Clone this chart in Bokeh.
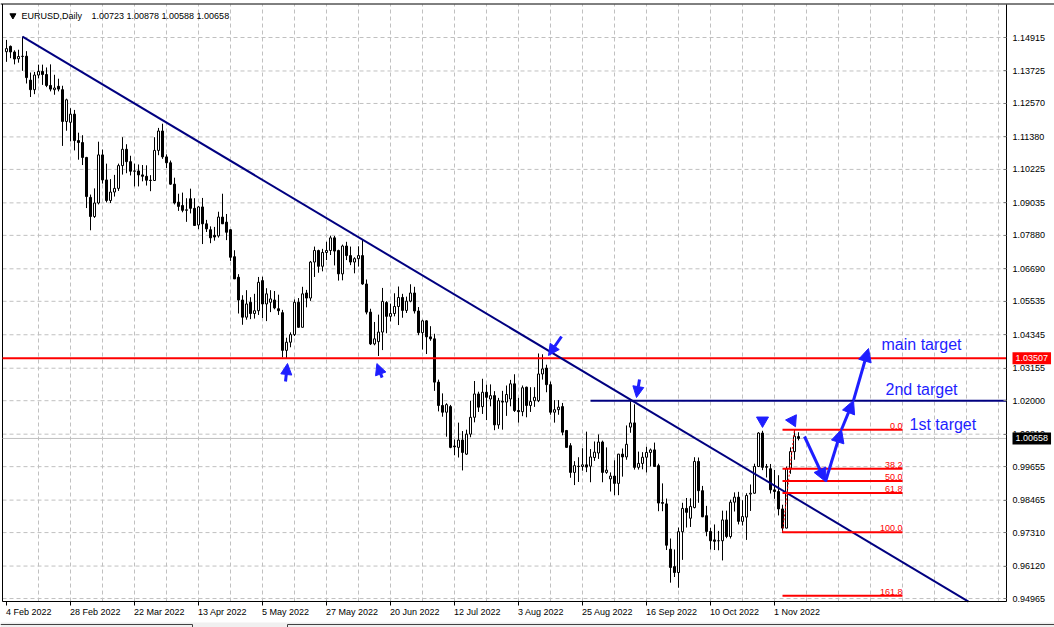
from bokeh.plotting import figure
from bokeh.models import (Range1d, FixedTicker, Label, Arrow, NormalHead, LinearAxis,
                          PrintfTickFormatter, ColumnDataSource)
from bokeh.core.properties import value
from bokeh.embed import file_html
from bokeh.resources import INLINE

# ---------------- data (EURUSD daily) ----------------
dates = ["2022-02-04","2022-02-07","2022-02-08","2022-02-09","2022-02-10","2022-02-11","2022-02-14","2022-02-15","2022-02-16","2022-02-17",
         "2022-02-18","2022-02-21","2022-02-22","2022-02-23","2022-02-24","2022-02-25","2022-02-28","2022-03-01","2022-03-02","2022-03-03",
         "2022-03-04","2022-03-07","2022-03-08","2022-03-09","2022-03-10","2022-03-11","2022-03-14","2022-03-15","2022-03-16","2022-03-17",
         "2022-03-18","2022-03-21","2022-03-22","2022-03-23","2022-03-24","2022-03-25","2022-03-28","2022-03-29","2022-03-30","2022-03-31",
         "2022-04-01","2022-04-04","2022-04-05","2022-04-06","2022-04-07","2022-04-08","2022-04-11","2022-04-12","2022-04-13","2022-04-14",
         "2022-04-15","2022-04-18","2022-04-19","2022-04-20","2022-04-21","2022-04-22","2022-04-25","2022-04-26","2022-04-27","2022-04-28",
         "2022-04-29","2022-05-02","2022-05-03","2022-05-04","2022-05-05","2022-05-06","2022-05-09","2022-05-10","2022-05-11","2022-05-12",
         "2022-05-13","2022-05-16","2022-05-17","2022-05-18","2022-05-19","2022-05-20","2022-05-23","2022-05-24","2022-05-25","2022-05-26",
         "2022-05-27","2022-05-30","2022-05-31","2022-06-01","2022-06-02","2022-06-03","2022-06-06","2022-06-07","2022-06-08","2022-06-09",
         "2022-06-10","2022-06-13","2022-06-14","2022-06-15","2022-06-16","2022-06-17","2022-06-20","2022-06-21","2022-06-22","2022-06-23",
         "2022-06-24","2022-06-27","2022-06-28","2022-06-29","2022-06-30","2022-07-01","2022-07-04","2022-07-05","2022-07-06","2022-07-07",
         "2022-07-08","2022-07-11","2022-07-12","2022-07-13","2022-07-14","2022-07-15","2022-07-18","2022-07-19","2022-07-20","2022-07-21",
         "2022-07-22","2022-07-25","2022-07-26","2022-07-27","2022-07-28","2022-07-29","2022-08-01","2022-08-02","2022-08-03","2022-08-04",
         "2022-08-05","2022-08-08","2022-08-09","2022-08-10","2022-08-11","2022-08-12","2022-08-15","2022-08-16","2022-08-17","2022-08-18",
         "2022-08-19","2022-08-22","2022-08-23","2022-08-24","2022-08-25","2022-08-26","2022-08-29","2022-08-30","2022-08-31","2022-09-01",
         "2022-09-02","2022-09-05","2022-09-06","2022-09-07","2022-09-08","2022-09-09","2022-09-12","2022-09-13","2022-09-14","2022-09-15",
         "2022-09-16","2022-09-19","2022-09-20","2022-09-21","2022-09-22","2022-09-23","2022-09-26","2022-09-27","2022-09-28","2022-09-29",
         "2022-09-30","2022-10-03","2022-10-04","2022-10-05","2022-10-06","2022-10-07","2022-10-10","2022-10-11","2022-10-12","2022-10-13",
         "2022-10-14","2022-10-17","2022-10-18","2022-10-19","2022-10-20","2022-10-21","2022-10-24","2022-10-25","2022-10-26","2022-10-27",
         "2022-10-28","2022-10-31","2022-11-01","2022-11-02","2022-11-03","2022-11-04","2022-11-07","2022-11-08","2022-11-09"]

opens = [1.1441,1.1460,1.1440,1.1416,1.1424,1.1425,1.1340,1.1306,1.1358,1.1371,
         1.1360,1.1321,1.1306,1.1318,1.1306,1.1193,1.1190,1.1219,1.1125,1.1118,
         1.1065,1.0923,1.0855,1.0903,1.1074,1.0985,1.0912,1.0942,1.0955,1.1036,
         1.1094,1.1050,1.1016,1.1017,1.1003,1.0998,1.0984,1.0983,1.1090,1.1159,
         1.1067,1.1046,1.0970,1.0906,1.0894,1.0877,1.0918,1.0884,1.0825,1.0889,
         1.0829,1.0808,1.0788,1.0786,1.0853,1.0835,1.0808,1.0712,1.0639,1.0558,
         1.0497,1.0550,1.0510,1.0520,1.0627,1.0544,1.0550,1.0558,1.0527,1.0513,
         1.0379,1.0408,1.0435,1.0550,1.0461,1.0583,1.0565,1.0693,1.0734,1.0678,
         1.0727,1.0734,1.0779,1.0734,1.0651,1.0750,1.0716,1.0693,1.0705,1.0716,
         1.0615,1.0515,1.0402,1.0410,1.0444,1.0549,1.0500,1.0510,1.0535,1.0567,
         1.0521,1.0554,1.0583,1.0519,1.0442,1.0484,1.0427,1.0420,1.0266,1.0183,
         1.0159,1.0179,1.0039,1.0034,1.0060,1.0010,1.0081,1.0141,1.0224,1.0179,
         1.0230,1.0206,1.0218,1.0114,1.0198,1.0195,1.0206,1.0260,1.0165,1.0161,
         1.0248,1.0183,1.0200,1.0200,1.0295,1.0316,1.0257,1.0159,1.0168,1.0179,
         1.0094,1.0040,0.9945,0.9967,0.9966,0.9972,0.9967,0.9998,1.0014,1.0053,
         0.9945,0.9922,0.9932,0.9906,1.0010,1.0000,1.0106,1.0121,0.9963,0.9977,
         0.9999,1.0016,1.0025,0.9969,0.9838,0.9833,0.9672,0.9610,0.9589,0.9734,
         0.9817,0.9782,0.9820,0.9984,0.9880,0.9791,0.9735,0.9705,0.9702,0.9702,
         0.9776,0.9717,0.9839,0.9857,0.9771,0.9786,0.9868,0.9871,0.9966,1.0085,
         0.9963,0.9958,0.9883,0.9877,0.9815,0.9747,0.9958,1.0019,1.00723]

highs = [1.1483,1.1463,1.1446,1.1448,1.1495,1.1443,1.1367,1.1369,1.1395,1.1395,
         1.1385,1.1396,1.1359,1.1345,1.1320,1.1274,1.1240,1.1234,1.1153,1.1144,
         1.1067,1.0933,1.0955,1.1121,1.1093,1.1043,1.0988,1.1003,1.1043,1.1137,
         1.1112,1.1071,1.1043,1.1040,1.1038,1.1037,1.1002,1.1137,1.1170,1.1185,
         1.1076,1.1054,1.0993,1.0936,1.0940,1.0920,1.0954,1.0920,1.0892,1.0921,
         1.0843,1.0820,1.0818,1.0872,1.0936,1.0864,1.0810,1.0735,1.0650,1.0575,
         1.0593,1.0568,1.0580,1.0640,1.0641,1.0600,1.0593,1.0590,1.0577,1.0523,
         1.0424,1.0443,1.0560,1.0565,1.0605,1.0594,1.0697,1.0748,1.0737,1.0740,
         1.0765,1.0787,1.0786,1.0737,1.0755,1.0765,1.0748,1.0710,1.0749,1.0774,
         1.0631,1.0527,1.0480,1.0506,1.0601,1.0554,1.0545,1.0582,1.0606,1.0580,
         1.0570,1.0614,1.0605,1.0533,1.0488,1.0486,1.0465,1.0438,1.0275,1.0226,
         1.0191,1.0185,1.0062,1.0122,1.0092,1.0097,1.0200,1.0270,1.0232,1.0278,
         1.0257,1.0258,1.0234,1.0210,1.0235,1.0254,1.0274,1.0294,1.0210,1.0254,
         1.0250,1.0248,1.0248,1.0368,1.0365,1.0328,1.0268,1.0202,1.0202,1.0192,
         1.0096,1.0049,0.9985,0.9999,1.0031,1.0090,1.0028,1.0055,1.0080,1.0058,
         1.0034,0.9945,0.9988,1.0011,1.0030,1.0112,1.0198,1.0187,1.0019,1.0017,
         1.0036,1.0030,1.0051,0.9976,0.9906,0.9852,0.9710,0.9671,0.9749,0.9837,
         0.9854,0.9853,0.9999,0.9998,0.9897,0.9826,0.9748,0.9760,0.9737,0.9809,
         0.9809,0.9848,0.9874,0.9876,0.9846,0.9871,0.9902,0.9976,1.0088,1.0093,
         0.9975,0.9975,0.9954,0.9935,0.9830,0.9966,1.0034,1.0096,1.00878]

lows = [1.1405,1.1418,1.1396,1.1402,1.1373,1.1328,1.1280,1.1290,1.1346,1.1323,
        1.1315,1.1300,1.1288,1.1300,1.1106,1.1160,1.1122,1.1090,1.1057,1.1038,
        1.0885,1.0806,1.0850,1.0898,1.0972,1.0905,1.0903,1.0926,1.0946,1.1004,
        1.1009,1.1001,1.0962,1.0962,1.0980,1.0965,1.0945,1.0983,1.1073,1.1060,
        1.1027,1.0968,1.0898,1.0875,1.0870,1.0836,1.0866,1.0822,1.0810,1.0757,
        1.0800,1.0760,1.0769,1.0780,1.0829,1.0771,1.0697,1.0633,1.0510,1.0470,
        1.0488,1.0490,1.0492,1.0505,1.0494,1.0483,1.0515,1.0525,1.0505,1.0354,
        1.0350,1.0390,1.0430,1.0460,1.0461,1.0532,1.0555,1.0640,1.0655,1.0660,
        1.0700,1.0718,1.0681,1.0627,1.0628,1.0700,1.0682,1.0653,1.0677,1.0612,
        1.0507,1.0398,1.0397,1.0359,1.0380,1.0440,1.0482,1.0500,1.0469,1.0495,
        1.0512,1.0550,1.0510,1.0433,1.0382,1.0366,1.0413,1.0235,1.0162,1.0143,
        1.0072,1.0031,1.0006,0.9998,0.9952,1.0007,1.0070,1.0123,1.0160,1.0153,
        1.0131,1.0180,1.0095,1.0100,1.0097,1.0146,1.0180,1.0160,1.0122,1.0145,
        1.0141,1.0160,1.0178,1.0195,1.0275,1.0230,1.0150,1.0122,1.0150,1.0077,
        1.0033,0.9926,0.9900,0.9911,0.9951,0.9946,0.9910,0.9986,0.9993,0.9910,
        0.9940,0.9877,0.9864,0.9864,0.9930,0.9990,1.0086,0.9955,0.9955,0.9956,
        0.9945,0.9966,0.9965,0.9807,0.9807,0.9669,0.9553,0.9573,0.9535,0.9634,
        0.9749,0.9751,0.9817,0.9837,0.9786,0.9718,0.9671,0.9669,0.9668,0.9632,
        0.9711,0.9710,0.9806,0.9760,0.9756,0.9705,0.9808,0.9869,0.9964,0.9953,
        0.9927,0.9870,0.9851,0.9792,0.9730,0.9746,0.9940,0.9990,1.00588]

closes = [1.1452,1.1440,1.1415,1.1424,1.1425,1.1349,1.1306,1.1358,1.1371,1.1360,
          1.1321,1.1308,1.1312,1.1308,1.1193,1.1270,1.1219,1.1125,1.1118,1.1065,
          1.0926,1.0855,1.0903,1.1074,1.0985,1.0912,1.0942,1.0955,1.1036,1.1094,
          1.1050,1.1016,1.1017,1.1003,1.0998,1.0984,1.0983,1.1090,1.1159,1.1067,
          1.1046,1.0970,1.0903,1.0891,1.0877,1.0879,1.0884,1.0823,1.0889,1.0829,
          1.0811,1.0779,1.0782,1.0853,1.0829,1.0799,1.0710,1.0633,1.0558,1.0497,
          1.0544,1.0510,1.0520,1.0621,1.0544,1.0580,1.0562,1.0530,1.0520,1.0379,
          1.0408,1.0435,1.0550,1.0461,1.0580,1.0565,1.0693,1.0734,1.0678,1.0727,
          1.0734,1.0779,1.0732,1.0651,1.0750,1.0716,1.0693,1.0705,1.0716,1.0615,
          1.0515,1.0402,1.0420,1.0444,1.0553,1.0500,1.0510,1.0535,1.0567,1.0521,
          1.0554,1.0583,1.0519,1.0442,1.0484,1.0427,1.0420,1.0266,1.0183,1.0159,
          1.0186,1.0034,1.0036,1.0060,1.0016,1.0081,1.0141,1.0224,1.0177,1.0230,
          1.0212,1.0218,1.0114,1.0200,1.0195,1.0222,1.0260,1.0165,1.0161,1.0246,
          1.0183,1.0197,1.0212,1.0295,1.0313,1.0257,1.0159,1.0168,1.0177,1.0088,
          1.0034,0.9945,0.9969,0.9966,0.9972,0.9964,1.0000,1.0017,1.0053,0.9945,
          0.9953,0.9932,0.9906,1.0010,1.0000,1.0045,1.0121,0.9963,0.9977,0.9999,
          1.0016,1.0025,0.9966,0.9836,0.9835,0.9686,0.9607,0.9589,0.9734,0.9817,
          0.9803,0.9824,0.9984,0.9880,0.9787,0.9735,0.9702,0.9700,0.9702,0.9776,
          0.9717,0.9839,0.9857,0.9771,0.9788,0.9863,0.9871,0.9966,1.0085,0.9963,
          0.9966,0.9883,0.9877,0.9815,0.9747,0.9958,1.0019,1.0074,1.00658]

# axis ticks
price_ticks = [1.14915, 1.13725, 1.12570, 1.11380, 1.10225, 1.09035, 1.07880, 1.06690, 1.05535,
               1.04345, 1.03155, 1.02000, 1.00810, 0.99655, 0.98465, 0.97310, 0.96120, 0.94965]
date_tick_bars = [0, 16, 32, 48, 64, 80, 96, 112, 128, 144, 160, 176, 192]
date_tick_labels = ["4 Feb 2022", "28 Feb 2022", "22 Mar 2022", "13 Apr 2022", "5 May 2022",
                    "27 May 2022", "20 Jun 2022", "12 Jul 2022", "3 Aug 2022", "25 Aug 2022",
                    "16 Sep 2022", "10 Oct 2022", "1 Nov 2022"]

# drawn objects (analysis)
support_level = 1.03507
level_2nd = 1.02000
level_2nd_start_bar = 146
trend_bars = [4, 240.5]
trend_prices = [1.14950, 0.94858]
fib_high = 1.0097
fib_low = 0.9732
fib_ratios = [0.0, 38.2, 50.0, 61.8, 100.0, 161.8]
fib_bars = [194, 224]
fib_anchor_bars = [194, 197]
path_bars = [199.5, 204.75, 208.75, 211.75, 215.5]
path_prices = [1.00727, 0.99126, 1.00976, 1.02010, 1.03856]
target_texts = ["main target", "2nd target", "1st target"]
target_bars = [218.75, 219.75, 225.75]
target_prices = [1.03998, 1.02398, 1.01153]
pointer_x0 = [69.75, 93.9, 138.75, 158.25]
pointer_y0 = [1.02682, 1.02820, 1.04283, 1.02754]
pointer_x1 = [70.25, 92.6, 135.5, 157.5]
pointer_y1 = [1.03322, 1.03320, 1.03607, 1.02113]
marker_bars = [189, 196.5]
marker_prices = [1.01296, 1.01296]
marker_angles = [0.0, 0.45]

BLUE = "#1E1EFF"
NAVY = "#000080"
RED = "#FF0000"
GRID = "#C0C0C0"
FONT = "Liberation Sans"

# chart window geometry (bars / prices at the window edges)
X0, X1 = -1.5, 262.0          # whole window, 4 px per bar
Y0, Y1 = 0.93935, 1.16231     # whole window
PRICE_AXIS_BAR = 250.0        # price scale sits here
BOTTOM_PRICE = 0.94859        # time scale sits here
TOP_PRICE = 1.16088
BORDER_TOP = 1.16106
LEFT_BAR = -1.0
TITLE_PRICE = 1.15697
TABBAR_TOP = 0.94113          # terminal tab strip under the chart
TAB_LINE = 0.94042
TAB_GAP = (46.5, 70.25)

p = figure(width=1054, height=627, output_backend="svg", toolbar_location=None,
           x_range=Range1d(X0, X1), y_range=Range1d(Y0, Y1),
           x_axis_location=None, y_axis_location=None, min_border=0)
p.min_border_left = 0
p.min_border_right = 0
p.min_border_top = 0
p.min_border_bottom = 0
p.outline_line_color = None
p.background_fill_color = "white"
p.border_fill_color = "white"
p.xgrid.grid_line_color = None
p.ygrid.grid_line_color = None

# terminal tab strip
p.quad(left=[X0], right=[X1], bottom=[Y0], top=[TABBAR_TOP], fill_color="#F0F0F0", line_color=None)
p.segment(x0=[X0, TAB_GAP[1]], y0=[TAB_LINE, TAB_LINE], x1=[TAB_GAP[0], X1], y1=[TAB_LINE, TAB_LINE],
          line_color="#404040", line_width=1)
p.segment(x0=[TAB_GAP[0], TAB_GAP[1]], y0=[TAB_LINE, TAB_LINE], x1=[TAB_GAP[0], TAB_GAP[1]],
          y1=[Y0, Y0], line_color="#404040", line_width=1)

# ---------------- grid ----------------
vgrid = list(range(8, 250, 8))
p.segment(x0=[LEFT_BAR] * len(price_ticks), y0=price_ticks, x1=[PRICE_AXIS_BAR] * len(price_ticks),
          y1=price_ticks, line_color=GRID, line_width=1, line_dash="4 3")
p.segment(x0=vgrid, y0=[BOTTOM_PRICE] * len(vgrid), x1=vgrid, y1=[TOP_PRICE] * len(vgrid),
          line_color=GRID, line_width=1, line_dash="4 3")

# window borders (left, top)
p.segment(x0=[LEFT_BAR, X0], y0=[BOTTOM_PRICE, BORDER_TOP], x1=[LEFT_BAR, X1], y1=[BORDER_TOP, BORDER_TOP],
          line_color="black", line_width=1)

# current price (bid) line
p.segment(x0=[LEFT_BAR], y0=[closes[-1]], x1=[PRICE_AXIS_BAR], y1=[closes[-1]],
          line_color=GRID, line_width=1)

# ---------------- axes ----------------
yax = LinearAxis(fixed_location=PRICE_AXIS_BAR, ticker=FixedTicker(ticks=price_ticks),
                 formatter=PrintfTickFormatter(format="%.5f"), bounds=(BOTTOM_PRICE, TOP_PRICE))
yax.major_tick_in = 3
yax.major_tick_out = 0
yax.minor_tick_in = 0
yax.minor_tick_out = 0
yax.major_tick_line_color = "#808080"
yax.major_label_standoff = 6
yax.major_label_text_font = FONT
yax.major_label_text_font_size = "9px"
yax.major_label_text_color = "black"
yax.axis_line_color = "black"
p.add_layout(yax, "right")

# time labels are drawn left-aligned at their bar (MT4 style): centre each label on its text
CHAR_W = {" ": 0.278, ".": 0.278, "F": 0.611, "e": 0.556, "b": 0.556, "M": 0.833, "a": 0.556,
          "r": 0.333, "A": 0.667, "p": 0.556, "y": 0.5, "J": 0.5, "u": 0.556, "n": 0.556,
          "l": 0.222, "g": 0.556, "S": 0.667, "O": 0.778, "c": 0.5, "t": 0.278, "N": 0.722,
          "o": 0.556, "v": 0.5}
def text_px(s, size=9.0):
    return sum(CHAR_W.get(ch, 0.556) for ch in s) * size
label_pos = [round(b + (text_px(t) / 2 - 0.5) / 4.0, 3) for b, t in zip(date_tick_bars, date_tick_labels)]

xax = LinearAxis(fixed_location=BOTTOM_PRICE, ticker=FixedTicker(ticks=label_pos),
                 bounds=(LEFT_BAR, PRICE_AXIS_BAR))
xax.major_label_overrides = {pos: t for pos, t in zip(label_pos, date_tick_labels)}
xax.major_tick_in = 0
xax.major_tick_out = 0
xax.minor_tick_in = 0
xax.minor_tick_out = 0
xax.major_label_standoff = 5
xax.major_label_text_font = FONT
xax.major_label_text_font_size = "9px"
xax.major_label_text_color = "black"
xax.axis_line_color = "black"
p.add_layout(xax, "below")

# tick marks of the time scale
p.segment(x0=date_tick_bars, y0=[BOTTOM_PRICE] * len(date_tick_bars), x1=date_tick_bars,
          y1=[0.94717] * len(date_tick_bars), line_color="black", line_width=1)

# ---------------- candles ----------------
xs = list(range(len(dates)))
src = ColumnDataSource(dict(
    x=xs, h=highs, l=lows,
    top=[max(o, c) for o, c in zip(opens, closes)],
    bottom=[min(o, c) for o, c in zip(opens, closes)],
    fill=["white" if c >= o else "black" for o, c in zip(opens, closes)],
))
p.segment(x0="x", y0="h", x1="x", y1="l", source=src, line_color="black", line_width=1)
p.vbar(x="x", width=0.5, top="top", bottom="bottom", fill_color="fill",
       line_color="black", line_width=1, source=src)

# ---------------- analysis objects ----------------
p.segment(x0=[LEFT_BAR], y0=[support_level], x1=[PRICE_AXIS_BAR], y1=[support_level],
          line_color=RED, line_width=2)
p.segment(x0=[level_2nd_start_bar], y0=[level_2nd], x1=[PRICE_AXIS_BAR], y1=[level_2nd],
          line_color=NAVY, line_width=2)
p.line(trend_bars, trend_prices, line_color=NAVY, line_width=2)

fib_levels = [fib_high - r / 100.0 * (fib_high - fib_low) for r in fib_ratios]
p.segment(x0=[fib_bars[0]] * len(fib_levels), y0=fib_levels,
          x1=[fib_bars[1]] * len(fib_levels), y1=fib_levels, line_color=RED, line_width=2)
p.text(x=[fib_bars[1]] * len(fib_levels), y=fib_levels, text=[f"{r:.1f}" for r in fib_ratios],
       text_align="right", text_baseline="bottom", y_offset=-1,
       text_font=value(FONT), text_font_size="9px", text_color=RED)
p.line(fib_anchor_bars, [fib_low, fib_high], line_color=RED, line_width=1, line_dash="2 2")

for i in range(len(path_bars) - 1):
    p.add_layout(Arrow(end=NormalHead(size=13, fill_color=BLUE, line_color=BLUE),
                       x_start=path_bars[i], y_start=path_prices[i],
                       x_end=path_bars[i + 1], y_end=path_prices[i + 1],
                       line_color=BLUE, line_width=3))

for a, b, c, d in zip(pointer_x0, pointer_y0, pointer_x1, pointer_y1):
    p.add_layout(Arrow(end=NormalHead(size=11, fill_color=BLUE, line_color=BLUE),
                       x_start=a, y_start=b, x_end=c, y_end=d,
                       line_color=BLUE, line_width=3))

p.scatter(marker_bars, marker_prices, marker="inverted_triangle", size=12,
          angle=marker_angles, fill_color=BLUE, line_color=BLUE)

p.text(x=target_bars, y=target_prices, text=target_texts, text_align="left",
       text_baseline="alphabetic", text_font=value(FONT), text_font_size="16px",
       text_color=BLUE)

# title line
p.scatter([1.6], [TITLE_PRICE], marker="inverted_triangle", size=6, fill_color="black", line_color="black")
p.add_layout(Label(x=3.75, y=TITLE_PRICE, text_baseline="middle", text_font=FONT, text_font_size="9px",
                   text_color="black", text="EURUSD,Daily"))
p.add_layout(Label(x=21.25, y=TITLE_PRICE, text_baseline="middle", text_font=FONT, text_font_size="9px",
                   text_color="black",
                   text=f"{opens[-1]:.5f} {highs[-1]:.5f} {lows[-1]:.5f} {closes[-1]:.5f}"))

# price tags on the price scale
for lvl, bg in ((support_level, RED), (closes[-1], "black")):
    p.add_layout(Label(x=PRICE_AXIS_BAR, y=lvl, x_offset=6, text=f"{lvl:.5f}",
                       text_baseline="middle", text_font=FONT, text_font_size="9px",
                       text_color="white", background_fill_color=bg, padding=3))

open("out.html", "w").write(file_html(p, INLINE))
